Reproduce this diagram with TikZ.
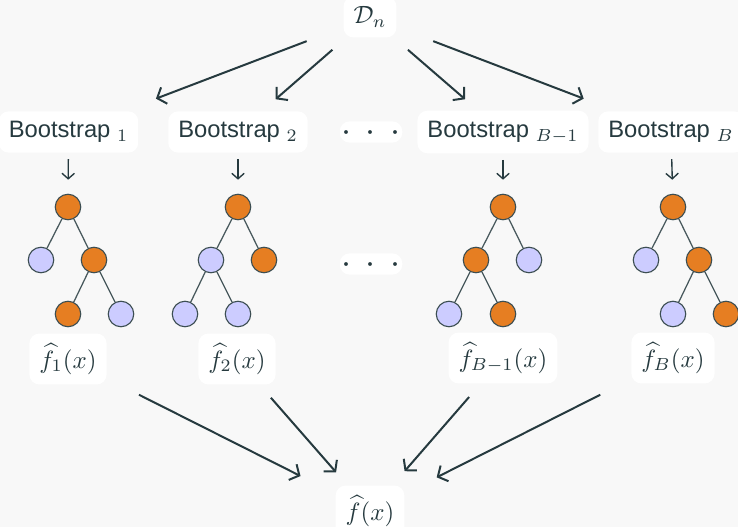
\documentclass[tikz,border=0pt]{standalone}
\usepackage{fontspec}
\setsansfont{Liberation Sans}
\usepackage{xcolor}
\usepackage{tikz}
\usetikzlibrary{positioning,arrows.meta,calc}
\definecolor{ink}{HTML}{263A3F}
\definecolor{paper}{HTML}{F8F8F8}
\definecolor{splitorange}{HTML}{E67E22}
\definecolor{leafblue}{HTML}{CCCCFF}
\newcommand{\moredots}{\raisebox{-3.75pt}{\fontsize{15}{15}\selectfont$\cdot\mkern3.2mu\cdot\mkern3.2mu\cdot$}}

\begin{document}
\begin{tikzpicture}[x=0.4pt, y=-0.4pt, card/.style={fill=white, rounded corners=4pt, inner sep=4pt, text=ink}, bslabel/.style={card, font=\sffamily\fontsize{9.5}{11}\selectfont, minimum height=16pt}, dotsbox/.style={card, minimum width=25pt, minimum height=8.5pt, inner sep=0pt, text height=0.8pt, text depth=0.8pt}, split/.style={circle, draw=ink!90, fill=splitorange, minimum size=10.2pt, inner sep=0pt, line width=0.45pt}, leaf/.style={split, fill=leafblue}, branch/.style={draw=ink!85, line width=0.5pt}, rel/.style={-{Straight Barb[length=3pt,width=7pt]}, draw=ink, line width=0.8pt}, drop/.style={-{Straight Barb[length=2.2pt,width=5pt]}, draw=ink, line width=0.55pt, shorten <=2.4pt, shorten >=5.6pt}]
\fill[paper] (0,0) rectangle (738,527);
\useasboundingbox (0,0) rectangle (738,527);
% data and bootstrap samples
\node[card] (Dn) at (370,17) {$\mathcal{D}_n$};
\node[bslabel] (b1) at (68.5,132) {Bootstrap $_{1}$};
\node[bslabel] (b2) at (238,132) {Bootstrap $_{2}$};
\node[dotsbox] (dots1) at (371,132) {\moredots};
\node[bslabel] (bB1) at (503,132) {Bootstrap $_{B-1}$};
\node[bslabel] (bB) at (671,132) {Bootstrap $_{B}$};
\draw[rel] ($(Dn)!0.21!(b1)$) -- ($(Dn)!0.71!(b1)$);
\draw[rel] ($(Dn)!0.285!(b2)$) -- ($(Dn)!0.715!(b2)$);
\draw[rel] ($(Dn)!0.285!(bB1)$) -- ($(Dn)!0.715!(bB1)$);
\draw[rel] ($(Dn)!0.21!(bB)$) -- ($(Dn)!0.71!(bB)$);
% tree 1
\node[split] (t1r) at (68,207) {};
\node[leaf] (t1a) at (41,260) {};
\node[split] (t1b) at (94,260) {};
\node[split] (t1ba) at (68,314) {};
\node[leaf] (t1bb) at (121,314) {};
\draw[branch] (t1r) -- (t1a) (t1r) -- (t1b) (t1b) -- (t1ba) (t1b) -- (t1bb);
% tree 2
\node[split] (t2r) at (238,207) {};
\node[leaf] (t2a) at (211,260) {};
\node[split] (t2b) at (264,260) {};
\node[leaf] (t2aa) at (185,314) {};
\node[leaf] (t2ab) at (238,314) {};
\draw[branch] (t2r) -- (t2a) (t2r) -- (t2b) (t2a) -- (t2aa) (t2a) -- (t2ab);
\node[dotsbox] (dots2) at (371,264) {\moredots};
% tree B-1
\node[split] (t3r) at (503,207) {};
\node[split] (t3a) at (476,260) {};
\node[leaf] (t3b) at (529,260) {};
\node[leaf] (t3aa) at (449,314) {};
\node[split] (t3ab) at (503,314) {};
\draw[branch] (t3r) -- (t3a) (t3r) -- (t3b) (t3a) -- (t3aa) (t3a) -- (t3ab);
% tree B
\node[split] (t4r) at (673,207) {};
\node[leaf] (t4a) at (646,260) {};
\node[split] (t4b) at (699,260) {};
\node[leaf] (t4ba) at (673,314) {};
\node[split] (t4bb) at (726,314) {};
\draw[branch] (t4r) -- (t4a) (t4r) -- (t4b) (t4b) -- (t4ba) (t4b) -- (t4bb);
\draw[drop] (b1) -- (t1r);
\draw[drop] (b2) -- (t2r);
\draw[drop] (bB1) -- (t3r);
\draw[drop] (bB) -- (t4r);
% estimates and aggregate
\node[card] (f1) at (68,359) {$\widehat{f}_1(x)$};
\node[card] (f2) at (237,359) {$\widehat{f}_2(x)$};
\node[card] (fB1) at (503,358) {$\widehat{f}_{B-1}(x)$};
\node[card] (fB) at (673,358) {$\widehat{f}_B(x)$};
\node[card] (f) at (370,511) {$\widehat{f}(x)$};
\draw[rel] ($(f1)!0.235!(f)$) -- ($(f1)!0.77!(f)$);
\draw[rel] ($(f2)!0.255!(f)$) -- ($(f2)!0.745!(f)$);
\draw[rel] ($(fB1)!0.255!(f)$) -- ($(fB1)!0.74!(f)$);
\draw[rel] ($(fB)!0.24!(f)$) -- ($(fB)!0.78!(f)$);
\end{tikzpicture}
\end{document}
